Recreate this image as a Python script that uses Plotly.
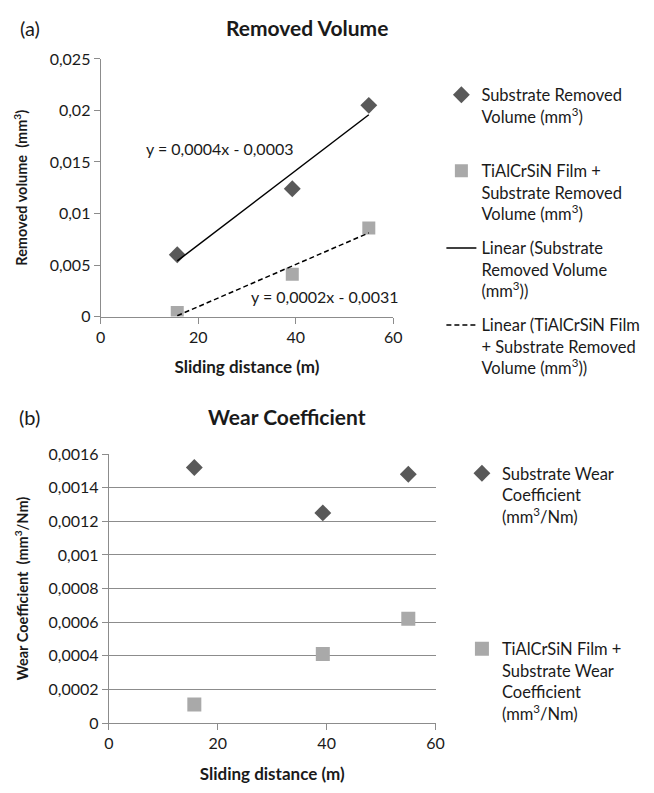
import numpy as np
import plotly.graph_objects as go

# ---------------- data ----------------
distance = [15.7, 39.3, 55.0]
substrate_volume = [0.0060, 0.0124, 0.0205]
film_volume = [0.0004, 0.0041, 0.0086]
substrate_wear = [0.00152, 0.00125, 0.00148]
film_wear = [0.00011, 0.00041, 0.00062]

x_ticks = [0, 20, 40, 60]
x_ticklabels = ["0", "20", "40", "60"]
vol_ticks = [0, 0.005, 0.01, 0.015, 0.02, 0.025]
vol_ticklabels = ["0", "0,005", "0,01", "0,015", "0,02", "0,025"]
wear_ticks = [0, 0.0002, 0.0004, 0.0006, 0.0008, 0.001, 0.0012, 0.0014, 0.0016]
wear_ticklabels = ["0", "0,0002", "0,0004", "0,0006", "0,0008", "0,001",
                   "0,0012", "0,0014", "0,0016"]
eq_labels = ["y = 0,0004x - 0,0003", "y = 0,0002x - 0,0031"]

# ---------------- helpers ----------------
# the page body keeps its default 8px margin, so the figure is sized to fit
OFF = 8
W, H = 654 - 2 * OFF, 793 - 2 * OFF
FONT = "Lato"
DARK = "#595959"
LIGHT = "#a9a9a9"
AXC = "#8c8c8c"
TXT = "#1a1a1a"


def px(x):
    return (x - OFF) / W


def py(y):
    return 1 - (y - OFF) / H


def trend(xs, ys):
    m, b = np.polyfit(xs, ys, 1)
    xx = np.array([min(xs), max(xs)])
    return xx, m * xx + b


fig = go.Figure()

# ---- panel (a) ----
fig.add_trace(go.Scatter(
    x=distance, y=substrate_volume, mode="markers",
    marker=dict(symbol="diamond", size=13, color=DARK),
    name="Substrate Removed<br>Volume (mm<sup>3</sup>)",
    xaxis="x", yaxis="y", legend="legend"))
fig.add_trace(go.Scatter(
    x=distance, y=film_volume, mode="markers",
    marker=dict(symbol="square", size=13, color=LIGHT),
    name="TiAlCrSiN Film +<br>Substrate Removed<br>Volume (mm<sup>3</sup>)",
    xaxis="x", yaxis="y", legend="legend2"))
tx, ty = trend(distance, substrate_volume)
fig.add_trace(go.Scatter(
    x=tx, y=ty, mode="lines", line=dict(color="black", width=1.5),
    name="Linear (Substrate<br>Removed Volume<br>(mm<sup>3</sup>))",
    xaxis="x", yaxis="y", legend="legend3"))
tx2, ty2 = trend(distance, film_volume)
fig.add_trace(go.Scatter(
    x=tx2, y=ty2, mode="lines",
    line=dict(color="black", width=1.5, dash="5px,3px"),
    name="Linear (TiAlCrSiN Film<br>+ Substrate Removed<br>Volume (mm<sup>3</sup>))",
    xaxis="x", yaxis="y", legend="legend4"))

# ---- panel (b) ----
fig.add_trace(go.Scatter(
    x=distance, y=substrate_wear, mode="markers",
    marker=dict(symbol="diamond", size=13, color=DARK),
    name="Substrate Wear<br>Coefficient<br>(mm<sup>3</sup>/Nm)",
    xaxis="x2", yaxis="y2", legend="legend5"))
fig.add_trace(go.Scatter(
    x=distance, y=film_wear, mode="markers",
    marker=dict(symbol="square", size=14, color=LIGHT),
    name="TiAlCrSiN Film +<br>Substrate Wear<br>Coefficient<br>(mm<sup>3</sup>/Nm)",
    xaxis="x2", yaxis="y2", legend="legend6"))

tickfont = dict(family=FONT, size=16, color=TXT)
ytitlefont = dict(family=FONT, size=14.5, color=TXT)
xtitlefont = dict(family=FONT, size=17, color=TXT)

common_x = dict(range=[0, 60], tickvals=x_ticks, ticktext=x_ticklabels,
                showline=True, linecolor=AXC, linewidth=1.2, ticks="outside",
                ticklen=6, tickcolor=AXC, showgrid=False, zeroline=False,
                tickfont=tickfont, fixedrange=True)

legend_font = dict(family=FONT, size=16.5, color=TXT)


def leg(x, y):
    return dict(x=px(x), y=py(y), xanchor="left", yanchor="top",
                font=legend_font, valign="top", bgcolor="rgba(0,0,0,0)",
                itemwidth=30, tracegroupgap=0)


fig.update_layout(
    width=W, height=H,
    margin=dict(l=0, r=0, t=0, b=0),
    paper_bgcolor="white", plot_bgcolor="white",
    font=dict(family=FONT, color=TXT),
    xaxis=dict(domain=[px(97.7), px(396.7)], anchor="y",
               title=dict(text="<b>Sliding distance (m)</b>", font=xtitlefont, standoff=16),
               **common_x),
    yaxis=dict(domain=[py(314), py(50)], anchor="x", range=[0, 0.025],
               tickvals=vol_ticks, ticktext=vol_ticklabels,
               showline=True, linecolor=AXC, linewidth=1.2, ticks="outside",
               ticklen=6, tickcolor=AXC, showgrid=False, zeroline=False,
               tickfont=tickfont, fixedrange=True,
               title=dict(text="<b>Removed volume  (mm<sup>3</sup>)</b>",
                          font=ytitlefont, standoff=18)),
    xaxis2=dict(domain=[px(106), px(440)], anchor="y2",
                title=dict(text="<b>Sliding distance (m)</b>", font=xtitlefont, standoff=16),
                **common_x),
    yaxis2=dict(domain=[py(730.7), py(455)], anchor="x2", range=[0, 0.0016],
                tickvals=wear_ticks, ticktext=wear_ticklabels,
                showline=True, linecolor=AXC, linewidth=1.2, ticks="outside",
                ticklen=6, tickcolor=AXC, showgrid=True, gridcolor=AXC,
                gridwidth=1.2, zeroline=False, tickfont=tickfont, fixedrange=True,
                title=dict(text="<b>Wear Coefficient  (mm<sup>3</sup>/Nm)</b>",
                           font=ytitlefont, standoff=16)),
    legend=leg(446, 69),
    legend2=leg(446, 147),
    legend3=leg(446, 226),
    legend4=leg(446, 305),
    legend5=leg(467, 457),
    legend6=leg(467, 637),
    showlegend=True,
)

# titles and panel labels
annots = [
    dict(text="(a)", x=px(25), y=py(18), font=dict(family=FONT, size=20, color=TXT)),
    dict(text="<b>Removed Volume</b>", x=px(309), y=py(18), font=dict(family=FONT, size=21, color=TXT)),
    dict(text="(b)", x=px(25), y=py(417), font=dict(family=FONT, size=20, color=TXT)),
    dict(text="<b>Wear Coefficient</b>", x=px(288), y=py(417), font=dict(family=FONT, size=21, color=TXT)),
]
for a in annots:
    fig.add_annotation(xref="paper", yref="paper", showarrow=False,
                       xanchor="center", yanchor="middle", **a)

# trendline equations (data coordinates)
fig.add_annotation(x=24.5, y=0.0163, xref="x", yref="y", text=eq_labels[0],
                   showarrow=False, font=dict(family=FONT, size=16, color=TXT))
fig.add_annotation(x=46.0, y=0.0019, xref="x", yref="y", text=eq_labels[1],
                   showarrow=False, font=dict(family=FONT, size=16, color=TXT))

fig.write_html("out.html")
